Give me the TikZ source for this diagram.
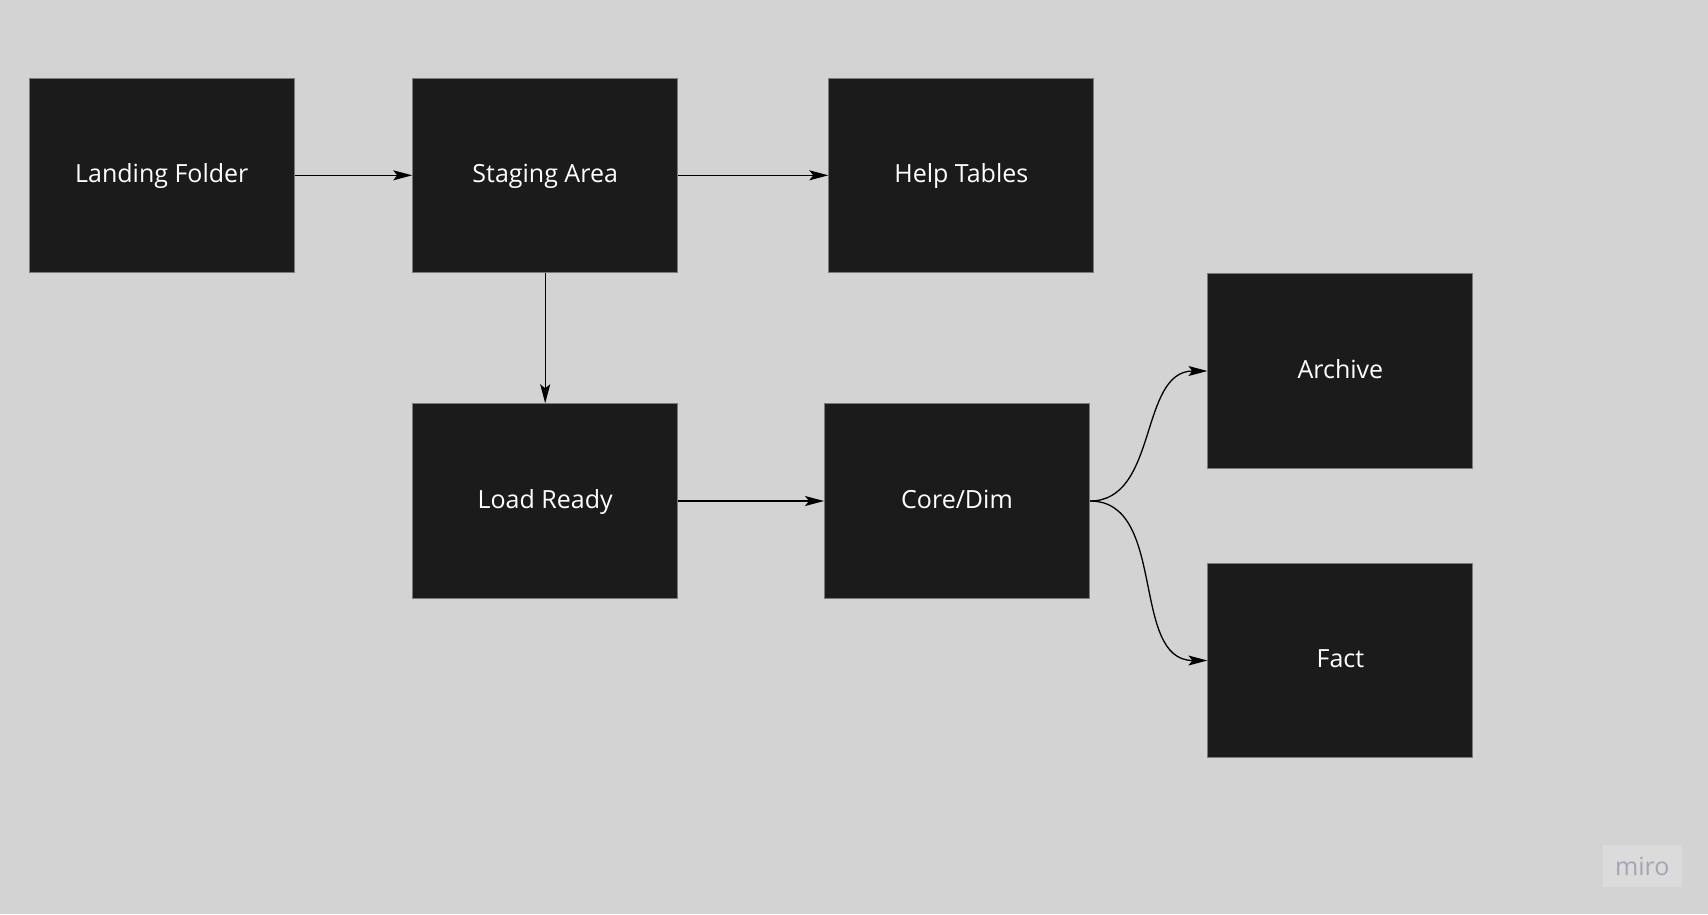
\documentclass[tikz,border=0pt]{standalone}
\usepackage{fontspec}
\setmainfont{Open Sans}
\usepackage{tikz}
\usetikzlibrary{arrows.meta, positioning}

\definecolor{boardgray}{HTML}{D3D3D3}
\definecolor{boxblack}{HTML}{1B1B1B}
\definecolor{boxedge}{HTML}{7A7A7A}
\definecolor{logogray}{HTML}{A4A4B3}
\definecolor{logobg}{HTML}{DBDBDB}

\tikzset{
  stagebox/.style={draw=boxedge, line width=1pt, fill=boxblack, text=white,
    minimum width=265pt, minimum height=194.5pt, inner sep=0pt,
    text height=19pt, text depth=5pt,
    font=\fontsize{25}{30}\selectfont},
  flow/.style={-{Stealth[length=19pt, width=10pt, inset=4pt]}, line width=1.3pt, black}
}

\begin{document}
\begin{tikzpicture}[x=1pt, y=-1pt]
      % board
      \fill[boardgray] (0,0) rectangle (1708,914);
      \useasboundingbox (0,0) rectangle (1708,914);
      % top row
      \node[stagebox] (landing) at (161.8,175.3) {Landing Folder};
      \node[stagebox] (staging) at (545.2,175.3) {Staging Area};
      \node[stagebox] (helptab) at (961.3,175.3) {Help Tables};
      % lower rows
      \node[stagebox] (loadready) at (545.2,501) {Load Ready};
      \node[stagebox] (coredim) at (957,501) {Core/Dim};
      \node[stagebox] (archive) at (1340.4,371) {Archive};
      \node[stagebox] (fact) at (1340.4,660.5) {Fact};
      % connectors
      \draw[flow] (landing) -- (staging);
      \draw[flow] (staging) -- (helptab);
      \draw[flow] (staging) -- (loadready);
      \draw[flow] (loadready) -- (coredim);
      \draw[flow] (coredim.east) to[out=0, in=180] (archive.west);
      \draw[flow] (coredim.east) to[out=0, in=180] (fact.west);
      % logo
      \node[fill=logobg, text=logogray, minimum width=79pt, minimum height=42pt,
        inner sep=0pt, font=\fontsize{25}{30}\selectfont] (logo) at (1642.2,866) {miro};
    \end{tikzpicture}
\end{document}
